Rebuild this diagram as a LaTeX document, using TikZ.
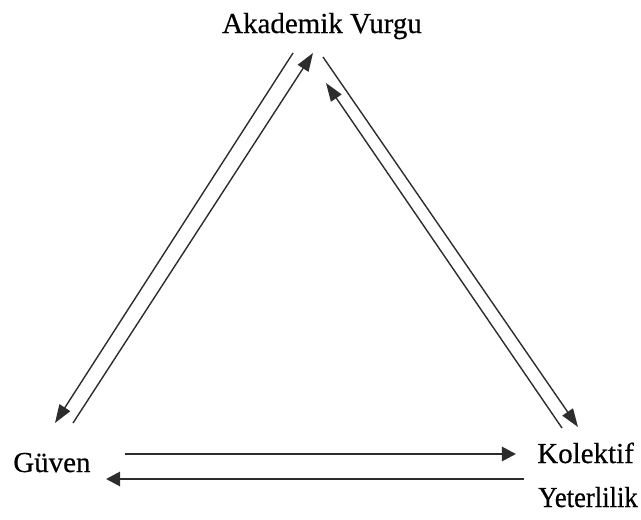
\documentclass[tikz,border=0pt]{standalone}
\usepackage{fontspec}
\setmainfont{Liberation Serif}
\newfontfamily\labelfont[FakeBold=0.5]{Liberation Serif}
\usepackage{tikz}
\usetikzlibrary{arrows.meta, positioning, calc}
\definecolor{linegray}{RGB}{45, 45, 45}
\tikzset{
  concept/.style={font=\labelfont\fontsize{20.6}{31}\selectfont, inner sep=0pt},
  thinarrow/.style={draw=linegray, line width=1pt, -{Triangle[length=13pt, width=9pt]}},
  thickarrow/.style={draw=linegray, line width=2pt, -{Triangle[length=10pt, width=10pt]}}
}

\begin{document}
\begin{tikzpicture}[x=0.025cm, y=-0.025cm]
        \useasboundingbox (0,0) rectangle (641,520);

        % Concepts
        \node[concept, anchor=base] (akademik) at (322,33) {Akademik Vurgu};
        \node[concept, anchor=base west] (guven) at (13,472) {Güven};
        \node[concept, anchor=base west] (kolektif) at (537,463) {Kolektif};
        \node[concept, anchor=base west] (yeterlilik) at (538,507) {\scalebox{0.92}[1]{Yeterlilik}};

        % Arrow ends
        \coordinate (av-out-l) at (293,53);
        \coordinate (av-in-l) at (313,53);
        \coordinate (av-out-r) at (323,57);
        \coordinate (av-in-r) at (326,83);
        \coordinate (gv-out) at (55,423);
        \coordinate (gv-in) at (73,423);
        \coordinate (gv-top) at (125,454);
        \coordinate (gv-bot) at (106,479);
        \coordinate (ky-out) at (578,427);
        \coordinate (ky-in) at (562,428);
        \coordinate (ky-top) at (516,454);
        \coordinate (ky-bot) at (524,479);

        % Akademik Vurgu <-> Guven
        \draw[thinarrow] (av-out-l) -- (gv-out);
        \draw[thinarrow] (gv-in) -- (av-in-l);

        % Akademik Vurgu <-> Kolektif Yeterlilik
        \draw[thinarrow] (av-out-r) -- (ky-out);
        \draw[thinarrow] (ky-in) -- (av-in-r);

        % Guven <-> Kolektif Yeterlilik
        \draw[thickarrow] (gv-top) -- (ky-top);
        \draw[thickarrow] (ky-bot) -- (gv-bot);
\end{tikzpicture}
\end{document}
